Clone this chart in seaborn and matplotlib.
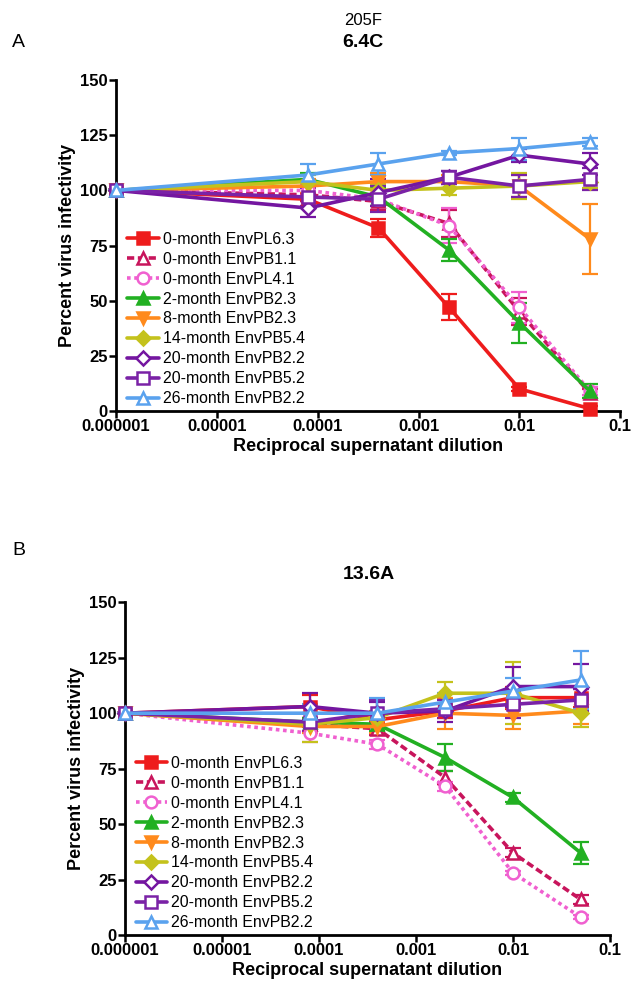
import numpy as np
import pandas as pd
import matplotlib
matplotlib.use("Agg")
import matplotlib.pyplot as plt
import seaborn as sns

sns.set_style("ticks")
plt.rcParams["font.family"] = ["Liberation Sans", "DejaVu Sans"]
plt.rcParams["text.color"] = "black"
plt.rcParams["axes.labelcolor"] = "black"
plt.rcParams["xtick.color"] = "black"
plt.rcParams["ytick.color"] = "black"

# reciprocal supernatant dilutions (x values)
dilution = [1e-6, 8e-5, 4e-4, 2e-3, 1e-2, 5e-2]

labels = ["0-month EnvPL6.3", "0-month EnvPB1.1", "0-month EnvPL4.1",
          "2-month EnvPB2.3", "8-month EnvPB2.3", "14-month EnvPB5.4",
          "20-month EnvPB2.2", "20-month EnvPB5.2", "26-month EnvPB2.2"]

# panel A: 6.4C
a_pl63 = [100, 96, 83, 47, 10, 1]
a_pb11 = [100, 98, 95, 85, 45, 8]
a_pl41 = [100, 100, 96, 84, 47, 9]
a_pb23_2m = [100, 105, 97, 73, 40, 9]
a_pb23_8m = [100, 102, 104, 104, 102, 78]
a_pb54 = [100, 104, 100, 101, 102, 104]
a_pb22_20m = [100, 92, 99, 106, 116, 112]
a_pb52 = [100, 97, 96, 106, 102, 105]
a_pb22_26m = [100, 107, 112, 117, 119, 122]

a_err_pl63 = [0, 3, 4, 6, 1, 1]
a_err_pb11 = [0, 3, 4, 6, 6, 2]
a_err_pl41 = [0, 3, 3, 8, 7, 2]
a_err_pb23_2m = [0, 3, 4, 5, 9, 3]
a_err_pb23_8m = [0, 3, 4, 3, 5, 16]
a_err_pb54 = [0, 3, 3, 3, 6, 3]
a_err_pb22_20m = [0, 4, 6, 3, 3, 5]
a_err_pb52 = [0, 4, 6, 3, 5, 5]
a_err_pb22_26m = [0, 5, 5, 1, 5, 2]

# panel B: 13.6A
b_pl63 = [100, 103, 97, 101, 107, 107]
b_pb11 = [100, 95, 93, 71, 37, 16]
b_pl41 = [100, 91, 86, 67, 28, 8]
b_pb23_2m = [100, 96, 95, 80, 62, 37]
b_pb23_8m = [100, 94, 94, 100, 99, 101]
b_pb54 = [100, 95, 98, 109, 109, 100]
b_pb22_20m = [100, 103, 100, 101, 112, 112]
b_pb52 = [100, 96, 100, 102, 104, 106]
b_pb22_26m = [100, 100, 100, 105, 110, 115]

b_err_pl63 = [0, 5, 3, 3, 5, 4]
b_err_pb11 = [0, 3, 3, 3, 2, 2]
b_err_pl41 = [0, 4, 2, 2, 1, 1]
b_err_pb23_2m = [0, 2, 3, 6, 2, 5]
b_err_pb23_8m = [0, 3, 3, 7, 6, 6]
b_err_pb54 = [0, 8, 3, 5, 14, 6]
b_err_pb22_20m = [0, 6, 5, 5, 9, 10]
b_err_pb52 = [0, 4, 6, 4, 6, 5]
b_err_pb22_26m = [0, 4, 7, 4, 6, 13]

colors = ["#ee1c1c", "#c8155c", "#f060d0", "#22b022", "#ff8a1c",
          "#c4c21c", "#7416a0", "#7a22a6", "#5aa2ee"]
markers = ["s", "^", "o", "^", "v", "D", "D", "s", "^"]
filled = [True, False, False, True, True, True, False, False, False]
styles = ["-", (0, (2, 1)), (0, (1, 1)), "-", "-", "-", "-", "-", "-"]
msizes = [9, 9, 8.5, 9, 9, 7, 7, 9, 9]

xticks = [1e-6, 1e-5, 1e-4, 1e-3, 1e-2, 1e-1]
xticklabels = ["0.000001", "0.00001", "0.0001", "0.001", "0.01", "0.1"]
yticks = [0, 25, 50, 75, 100, 125, 150]


def draw_panel(ax, series, errors):
    for i, (vals, errs) in enumerate(zip(series, errors)):
        df = pd.DataFrame({"dilution": dilution, "pct": vals})
        ax.errorbar(dilution, vals, yerr=errs, fmt="none", ecolor=colors[i],
                    elinewidth=1.6, capsize=5.5, capthick=1.6, zorder=2)
        sns.lineplot(data=df, x="dilution", y="pct", ax=ax, color=colors[i],
                     linestyle=styles[i], linewidth=2.6, marker=markers[i],
                     markersize=msizes[i], markeredgewidth=1.8,
                     markeredgecolor=colors[i],
                     markerfacecolor=colors[i] if filled[i] else "white",
                     label=labels[i], zorder=3)
    ax.set_xscale("log")
    ax.set_xlim(1e-6, 1e-1)
    ax.set_ylim(0, 150)
    ax.set_xticks(xticks)
    ax.set_xticklabels(xticklabels)
    ax.minorticks_off()
    ax.set_yticks(yticks)
    ax.set_yticklabels([str(t) for t in yticks])
    for lab in ax.get_xticklabels() + ax.get_yticklabels():
        lab.set_fontweight("bold")
        lab.set_fontsize(12)
    ax.tick_params(direction="out", length=5, width=1.8, pad=1)
    for side in ["left", "bottom"]:
        ax.spines[side].set_linewidth(2)
        ax.spines[side].set_color("black")
    sns.despine(ax=ax)
    ax.set_xlabel("Reciprocal supernatant dilution", fontsize=13,
                  fontweight="bold", labelpad=3)
    ax.set_ylabel("Percent virus infectivity", fontsize=13,
                  fontweight="bold", labelpad=3)
    ax.legend(loc="lower left", bbox_to_anchor=(0.012, 0.0), frameon=False,
              fontsize=11.4, handlelength=2.0, handletextpad=0.25,
              labelspacing=0.31, borderaxespad=0.3, borderpad=0.0)
    for line in ax.get_lines():
        line.set_clip_on(False)


fig = plt.figure(figsize=(6.38, 9.9), dpi=100)
ax_a = fig.add_axes([0.182, 0.585, 0.790, 0.334])
ax_b = fig.add_axes([0.196, 0.0556, 0.760, 0.336])

draw_panel(ax_a,
           [a_pl63, a_pb11, a_pl41, a_pb23_2m, a_pb23_8m, a_pb54, a_pb22_20m, a_pb52, a_pb22_26m],
           [a_err_pl63, a_err_pb11, a_err_pl41, a_err_pb23_2m, a_err_pb23_8m, a_err_pb54,
            a_err_pb22_20m, a_err_pb52, a_err_pb22_26m])
draw_panel(ax_b,
           [b_pl63, b_pb11, b_pl41, b_pb23_2m, b_pb23_8m, b_pb54, b_pb22_20m, b_pb52, b_pb22_26m],
           [b_err_pl63, b_err_pb11, b_err_pl41, b_err_pb23_2m, b_err_pb23_8m, b_err_pb54,
            b_err_pb22_20m, b_err_pb52, b_err_pb22_26m])

fig.text(0.569, 0.979, "205F", ha="center", va="center", fontsize=12)
fig.text(0.569, 0.957, "6.4C", ha="center", va="center", fontsize=14, fontweight="bold")
fig.text(0.578, 0.420, "13.6A", ha="center", va="center", fontsize=14, fontweight="bold")
fig.text(0.029, 0.957, "A", ha="center", va="center", fontsize=14)
fig.text(0.029, 0.444, "B", ha="center", va="center", fontsize=14)

fig.savefig("out.png", dpi=100)
